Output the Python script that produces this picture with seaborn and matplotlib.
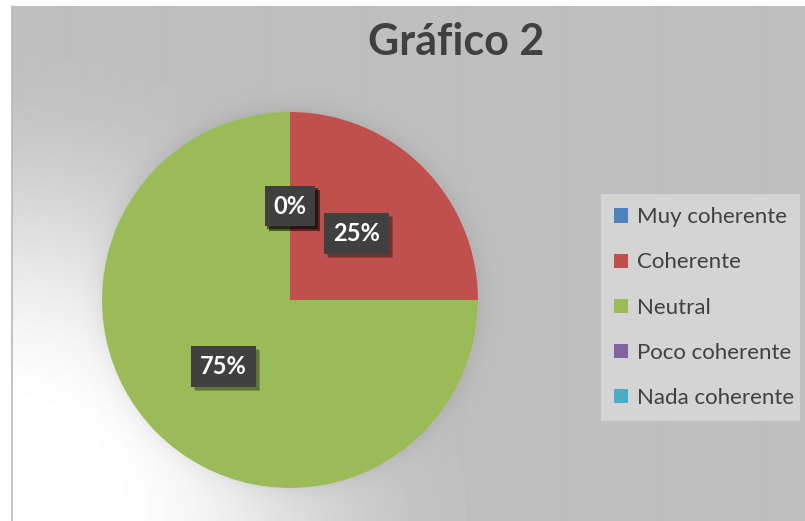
import numpy as np
import matplotlib
matplotlib.use("Agg")
import matplotlib.pyplot as plt
import matplotlib.patheffects as pe
import seaborn as sns

# ---- data ----
categories = ["Muy coherente", "Coherente", "Neutral", "Poco coherente", "Nada coherente"]
values = [0, 25, 75, 0, 0]
slice_colors = ["#4F81BD", "#C0504D", "#9BBB59", "#8064A2", "#4BACC6"]
title = "Gráfico 2"

sns.set_theme(style="white")
plt.rcParams["font.family"] = ["Lato", "DejaVu Sans"]
palette = sns.color_palette(slice_colors)

W, H = 805, 521
fig = plt.figure(figsize=(W / 100, H / 100), dpi=100, facecolor="white")

# ---- background (gradient chart area) ----
bg = fig.add_axes([0, 0, 1, 1], zorder=0)
bg.set_xlim(0, W)
bg.set_ylim(H, 0)
bg.axis("off")
xs = np.arange(12, W) + 0.5
ys = np.arange(6, H) + 0.5
X, Y = np.meshgrid(xs, ys)
d = np.hypot(X - 0, Y - H)
t = np.clip((d - 100) / 380, 0, 1)
f = 1 - (3 * t**2 - 2 * t**3)
# soft shadow around pie
cx, cy, R = 290, 300, 188
r = np.hypot(X - cx, Y - cy)
shadow = np.where(r > R, np.exp(-(r - R) / 10.0), 0) * 0.05
base = 191 / 255
img = base + (1 - base) * f - shadow
bg.imshow(img, cmap="gray", vmin=0, vmax=1, extent=(12, W, H, 6),
          interpolation="bilinear", aspect="auto")
bg.plot([11.5, 11.5], [6, H], color="#b8b8b8", lw=1.2)

# ---- pie ----
ax = fig.add_axes([102 / W, (H - 488) / H, 376 / W, 376 / H], zorder=2)
wedges, _ = ax.pie(values, colors=palette, startangle=90, counterclock=False,
                   radius=1, wedgeprops=dict(linewidth=0))
ax.set_xlim(-1, 1)
ax.set_ylim(-1, 1)
ax.set_aspect("auto")
ax.axis("off")

total = sum(values)
for w, v in zip(wedges, values):
    ang = np.deg2rad((w.theta1 + w.theta2) / 2)
    txt = ax.text(0.5 * np.cos(ang), 0.5 * np.sin(ang), f"{v / total * 100:.0f}%",
                  ha="center", va="center", color="white", fontsize=17,
                  fontweight="bold",
                  bbox=dict(boxstyle="square,pad=0.38", facecolor="#404040",
                            edgecolor="none"))
    txt.get_bbox_patch().set_path_effects([
        pe.SimplePatchShadow(offset=(3, -3), shadow_rgbFace="black", alpha=0.22),
        pe.SimplePatchShadow(offset=(2, -2), shadow_rgbFace="black", alpha=0.2),
        pe.Normal()])

# ---- legend ----
leg = fig.legend(wedges, categories, loc="upper left",
                 bbox_to_anchor=(601 / W, 1 - 194 / H, 199 / W, 0.0),
                 mode="expand", frameon=True, fancybox=False,
                 facecolor="#d4d4d4", edgecolor="none", framealpha=1,
                 fontsize=16, labelcolor="#404040", handlelength=0.6,
                 handleheight=0.6, handletextpad=0.4, labelspacing=1.13,
                 borderpad=0.6, borderaxespad=0)
leg.set_zorder(3)

# ---- title ----
fig.text(456 / W, 1 - 42 / H, title, ha="center", va="center", fontsize=31,
         fontweight="bold", color="#404040")

fig.savefig("out.png", dpi=100, facecolor="white")
